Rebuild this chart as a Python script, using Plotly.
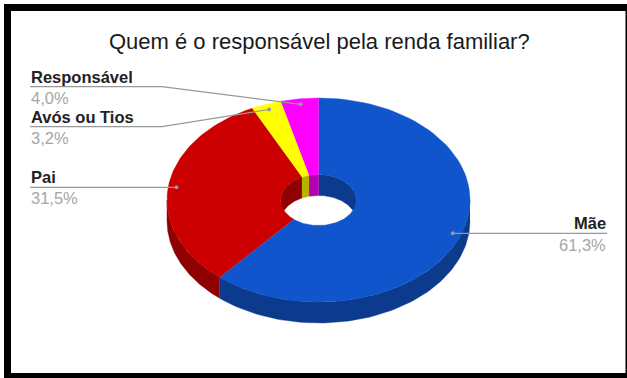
import numpy as np
import plotly.graph_objects as go

categories = ["Mãe", "Pai", "Avós ou Tios", "Responsável"]
shares = [61.3, 31.5, 3.2, 4.0]
face_colors = ["#1155cc", "#cc0000", "#ffff00", "#ff00ff"]
wall_colors = ["#0c3b8e", "#8f0000", "#b3b300", "#b300b3"]
title_text = "Quem é o responsável pela renda familiar?"

WIDTH, HEIGHT = 627, 378
CX, CY = 318.5, 200.0          # centre of the top face
RX, RY = 151.5, 102.0          # outer ellipse radii
HOLE = 0.25                    # hole radius relative to the outer radius
DEPTH = 21.0                   # extruded thickness of the ring
LEADER_R = 0.945               # radial position of the leader dots


def arc(a0, a1, scale=1.0, dy=0.0, n=90):
    """Ellipse arc for clockwise angles (degrees from 12 o'clock)."""
    t = np.radians(np.linspace(a0, a1, n))
    return CX + scale * RX * np.sin(t), CY - scale * RY * np.cos(t) + dy


def polygon(color, xs, ys):
    return go.Scatter(x=np.concatenate(xs), y=np.concatenate(ys), mode="lines",
                      fill="toself", fillcolor=color, hoverinfo="skip",
                      line=dict(color=color, width=0.4))


def clipped(a0, a1, lo, hi):
    """Overlap of [a0, a1] with [lo, hi], or None."""
    s, e = max(a0, lo), min(a1, hi)
    return (s, e) if e > s else None


edges = np.concatenate([[0], np.cumsum(shares)]) / sum(shares) * 360
spans = list(zip(edges[:-1], edges[1:]))

fig = go.Figure()

# Outer wall: only the front half of the ring shows
for (a0, a1), wall in zip(spans, wall_colors):
    part = clipped(a0, a1, 90, 270)
    if part:
        x1, y1 = arc(*part)
        x2, y2 = arc(*part, dy=DEPTH)
        fig.add_trace(polygon(wall, [x1, x2[::-1]], [y1, y2[::-1]]))

# Inner wall of the hole: only the back half shows
for (a0, a1), wall in zip(spans, wall_colors):
    for lo, hi in ((-90, 90), (270, 450)):
        part = clipped(a0, a1, lo, hi)
        if part:
            x1, y1 = arc(*part, scale=HOLE)
            x2, y2 = arc(*part, scale=HOLE, dy=DEPTH)
            fig.add_trace(polygon(wall, [x1, x2[::-1]], [y1, y2[::-1]]))

# Top face, painted last so it trims the hole walls to the opening
for (a0, a1), face in zip(spans, face_colors):
    x1, y1 = arc(a0, a1)
    x2, y2 = arc(a1, a0, scale=HOLE)
    fig.add_trace(polygon(face, [x1, x2], [y1, y2]))

# Leader lines run from a dot on each slice to the label rule
label_rows = {
    "Mãe": dict(rule_y=233.3, end_x=607, knee=[], name_y=222.5, value_y=244.5, anchor="right", text_x=608),
    "Pai": dict(rule_y=187.3, end_x=30, knee=[], name_y=177, value_y=198, anchor="left", text_x=29),
    "Avós ou Tios": dict(rule_y=126.7, end_x=30, knee=[162], name_y=116.5, value_y=137.5, anchor="left", text_x=29),
    "Responsável": dict(rule_y=86.7, end_x=30, knee=[162], name_y=76.5, value_y=97.5, anchor="left", text_x=29),
}

annotations = []
for name, share, (a0, a1) in zip(categories, shares, spans):
    row = label_rows[name]
    mid = np.radians((a0 + a1) / 2)
    dot_x = CX + LEADER_R * RX * np.sin(mid)
    dot_y = CY - LEADER_R * RY * np.cos(mid)
    xs = [dot_x] + row["knee"] + [row["end_x"]]
    # Horizontal labels sit level with their rule; the others bend at the knee
    start_y = dot_y if row["knee"] else row["rule_y"]
    ys = [start_y] + [row["rule_y"]] * (len(xs) - 1)
    fig.add_trace(go.Scatter(x=xs, y=ys, mode="lines", hoverinfo="skip",
                             line=dict(color="#999999", width=1.2)))
    fig.add_trace(go.Scatter(x=[xs[0]], y=[ys[0]], mode="markers", hoverinfo="skip",
                             marker=dict(color="#999999", size=4)))
    annotations.append(dict(x=row["text_x"], y=row["name_y"], text=f"<b>{name}</b>",
                            xanchor=row["anchor"], yanchor="middle", showarrow=False,
                            font=dict(family="Liberation Sans", size=16.5, color="#222222")))
    annotations.append(dict(x=row["text_x"], y=row["value_y"],
                            text=f"{share:.1f}%".replace(".", ","),
                            xanchor=row["anchor"], yanchor="middle", showarrow=False,
                            font=dict(family="Liberation Sans", size=16.5, color="#a6a6a6")))

annotations.append(dict(x=319, y=41, text=title_text, xanchor="center", yanchor="middle",
                        showarrow=False,
                        font=dict(family="Liberation Sans", size=22, color="#1a1a1a")))

fig.update_layout(
    width=WIDTH, height=HEIGHT, margin=dict(l=0, r=0, t=0, b=0),
    paper_bgcolor="white", plot_bgcolor="white", showlegend=False,
    xaxis=dict(range=[0, WIDTH], visible=False, fixedrange=True),
    yaxis=dict(range=[HEIGHT, 0], visible=False, fixedrange=True),
    annotations=annotations,
    # Heavy black frame around the card
    shapes=[dict(type="rect", x0=7.5, y0=7.5, x1=629, y1=376.5,
                 line=dict(color="black", width=7), fillcolor="rgba(0,0,0,0)")],
)

fig.write_html("out.html", config=dict(displayModeBar=False))
